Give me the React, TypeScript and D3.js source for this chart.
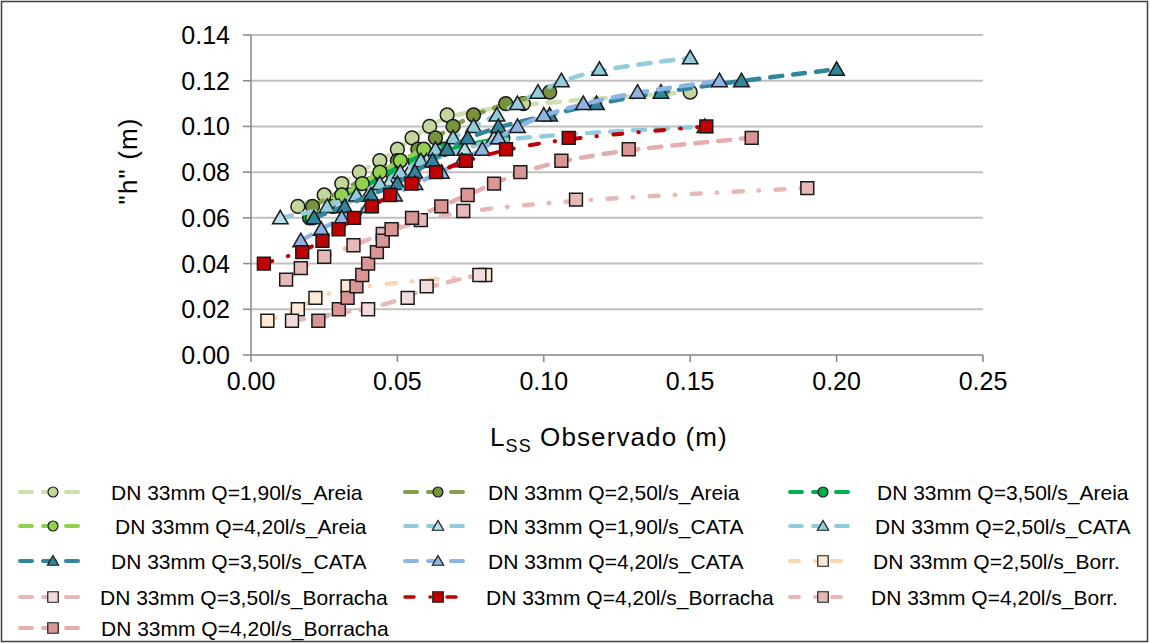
import * as d3 from "d3";

// x = L_SS observado (m), h = "h" (m)
const xTicks = [0, 0.05, 0.1, 0.15, 0.2, 0.25];
const yTicks = [0, 0.02, 0.04, 0.06, 0.08, 0.1, 0.12, 0.14];

const areia190: [number, number][] = [
  [0.016, 0.065], [0.025, 0.07], [0.031, 0.075], [0.037, 0.08], [0.044, 0.085], [0.050, 0.09],
  [0.055, 0.095], [0.061, 0.1], [0.067, 0.105], [0.093, 0.11], [0.150, 0.115],
];
const areia250: [number, number][] = [
  [0.021, 0.065], [0.050, 0.085], [0.057, 0.09], [0.063, 0.095], [0.069, 0.1], [0.076, 0.105],
  [0.087, 0.11], [0.102, 0.115],
];
const areia350: [number, number][] = [
  [0.020, 0.06], [0.028, 0.065], [0.034, 0.07], [0.041, 0.075], [0.048, 0.08], [0.056, 0.085],
  [0.066, 0.09], [0.086, 0.095],
];
const areia420: [number, number][] = [
  [0.021, 0.06], [0.031, 0.07], [0.038, 0.075], [0.044, 0.08], [0.051, 0.085], [0.059, 0.09],
];
const cata190: [number, number][] = [
  [0.010, 0.06], [0.030, 0.065], [0.040, 0.07], [0.047, 0.075], [0.054, 0.08], [0.060, 0.085],
  [0.073, 0.09], [0.083, 0.095], [0.155, 0.1],
];
const cata250: [number, number][] = [
  [0.026, 0.065], [0.036, 0.07], [0.044, 0.075], [0.051, 0.08], [0.058, 0.085], [0.063, 0.09],
  [0.069, 0.095], [0.076, 0.1], [0.084, 0.105], [0.091, 0.11], [0.098, 0.115], [0.106, 0.12],
  [0.119, 0.125], [0.150, 0.13],
];
const cata350: [number, number][] = [
  [0.0215, 0.06], [0.032, 0.065], [0.041, 0.07], [0.050, 0.075], [0.056, 0.08], [0.062, 0.085],
  [0.067, 0.09], [0.074, 0.095], [0.0845, 0.1], [0.102, 0.105], [0.118, 0.11], [0.140, 0.115],
  [0.1675, 0.12], [0.200, 0.125],
];
const cata420: [number, number][] = [
  [0.017, 0.05], [0.024, 0.055], [0.031, 0.06], [0.040, 0.065], [0.049, 0.07], [0.056, 0.075],
  [0.065, 0.08], [0.072, 0.085], [0.079, 0.09], [0.0845, 0.095], [0.091, 0.1], [0.100, 0.105],
  [0.1135, 0.11], [0.132, 0.115], [0.160, 0.12],
];
const borr250: [number, number][] = [
  [0.0056, 0.015], [0.016, 0.02], [0.022, 0.025], [0.033, 0.03], [0.080, 0.035],
];
const borr350: [number, number][] = [
  [0.014, 0.015], [0.040, 0.02], [0.0535, 0.025], [0.060, 0.03], [0.078, 0.035],
];
const borr420: [number, number][] = [
  [0.0044, 0.04], [0.0175, 0.045], [0.0244, 0.05], [0.0299, 0.055], [0.0352, 0.06], [0.0413, 0.065],
  [0.0475, 0.07], [0.0548, 0.075], [0.0632, 0.08], [0.0734, 0.085], [0.0871, 0.09], [0.1085, 0.095],
  [0.1555, 0.1],
];
const borr420b: [number, number][] = [
  [0.012, 0.033], [0.017, 0.038], [0.025, 0.043], [0.035, 0.048], [0.045, 0.053], [0.058, 0.059],
  [0.0725, 0.063], [0.111, 0.068], [0.190, 0.073],
];
const borr420c: [number, number][] = [
  [0.023, 0.015], [0.030, 0.02], [0.033, 0.025], [0.036, 0.03], [0.038, 0.035], [0.040, 0.04],
  [0.043, 0.045], [0.045, 0.05], [0.048, 0.055], [0.055, 0.06], [0.065, 0.065], [0.074, 0.07],
  [0.083, 0.075], [0.092, 0.08], [0.106, 0.085], [0.129, 0.09], [0.171, 0.095],
];

const seriesNames = [
  "DN 33mm Q=1,90l/s_Areia", "DN 33mm Q=2,50l/s_Areia", "DN 33mm Q=3,50l/s_Areia",
  "DN 33mm Q=4,20l/s_Areia", "DN 33mm Q=1,90l/s_CATA", "DN 33mm Q=2,50l/s_CATA",
  "DN 33mm Q=3,50l/s_CATA", "DN 33mm Q=4,20l/s_CATA", "DN 33mm Q=2,50l/s_Borr.",
  "DN 33mm Q=3,50l/s_Borracha", "DN 33mm Q=4,20l/s_Borracha", "DN 33mm Q=4,20l/s_Borr.",
  "DN 33mm Q=4,20l/s_Borracha",
];
const seriesData = [
  areia190, areia250, areia350, areia420, cata190, cata250, cata350, cata420,
  borr250, borr350, borr420, borr420b, borr420c,
];

type Shape = "circle" | "triangle" | "square";
const styles: { shape: Shape; fill: string; line: string; dash: string }[] = [
  { shape: "circle", fill: "#c3d69b", line: "#cfdfad", dash: "dash" },
  { shape: "circle", fill: "#77933c", line: "#84a04a", dash: "dash" },
  { shape: "circle", fill: "#00b050", line: "#00b050", dash: "dash" },
  { shape: "circle", fill: "#92d050", line: "#92d050", dash: "dash" },
  { shape: "triangle", fill: "#b7dee8", line: "#93cddd", dash: "dash" },
  { shape: "triangle", fill: "#93cddd", line: "#93cddd", dash: "dash" },
  { shape: "triangle", fill: "#31859c", line: "#31859c", dash: "dash" },
  { shape: "triangle", fill: "#8eb4e3", line: "#8eb4e3", dash: "dash" },
  { shape: "square", fill: "#fde9d9", line: "#fcd5b5", dash: "dashdot" },
  { shape: "square", fill: "#f2dcdb", line: "#e6b9b8", dash: "dash" },
  { shape: "square", fill: "#c00000", line: "#c00000", dash: "dashdot" },
  { shape: "square", fill: "#e6b9b8", line: "#e6b9b8", dash: "dashdot" },
  { shape: "square", fill: "#da9694", line: "#e3aead", dash: "dash" },
];

const dashes: Record<string, string> = { dash: "12 11", dashdot: "9 16 0.5 16.5" };
const legendRows = [492, 526, 561, 597, 628];
const legendSampleX = [20, 405, 790];
const legendTextX = [111, 488, 877, 115, 488, 875, 111, 488, 873, 100, 486, 871, 101];

const font = "'Liberation Sans', Arial, Helvetica, sans-serif";

const symbolPath = (shape: Shape, big: boolean) => {
  const type = shape === "circle" ? d3.symbolCircle : shape === "triangle" ? d3.symbolTriangle : d3.symbolSquare;
  const size = big
    ? shape === "circle" ? 150 : shape === "triangle" ? 105 : 165
    : shape === "circle" ? 78 : shape === "triangle" ? 55 : 110;
  return d3.symbol().type(type).size(size)() as string;
};

export default function App() {
  const x = d3.scaleLinear().domain([0, 0.25]).range([251, 983]);
  const y = d3.scaleLinear().domain([0, 0.14]).range([355, 35]);
  const line = d3
    .line<[number, number]>()
    .x((d) => x(d[0]))
    .y((d) => y(d[1]))
    .curve(d3.curveBasis);
  const fmt = d3.format(".2f");

  return (
    <svg
      width={1150}
      height={643}
      style={{ position: "absolute", left: 0, top: 0, background: "#fff" }}
      fontFamily={font}
    >
      <rect x={1.5} y={1.5} width={1146} height={640} fill="#fff" stroke="#404040" strokeWidth={1.5} />

      {/* grid */}
      {yTicks.slice(1).map((t) => (
        <line key={t} x1={x(0)} x2={x(0.25)} y1={y(t)} y2={y(t)} stroke="#c0c0c0" strokeWidth={2} />
      ))}

      {/* axes */}
      <line x1={x(0)} x2={x(0)} y1={y(0.14)} y2={y(0)} stroke="#868686" strokeWidth={1.5} />
      <line x1={x(0)} x2={x(0.25)} y1={y(0)} y2={y(0)} stroke="#868686" strokeWidth={1.5} />
      {yTicks.map((t) => (
        <g key={t}>
          <line x1={x(0) - 8} x2={x(0)} y1={y(t)} y2={y(t)} stroke="#868686" strokeWidth={1.5} />
          <text x={x(0) - 21} y={y(t)} dy="0.36em" textAnchor="end" fontSize={25} fill="#000">
            {fmt(t)}
          </text>
        </g>
      ))}
      {xTicks.map((t) => (
        <g key={t}>
          <line x1={x(t)} x2={x(t)} y1={y(0)} y2={y(0) + 7} stroke="#868686" strokeWidth={1.5} />
          <text x={x(t)} y={390} textAnchor="middle" fontSize={25} fill="#000">
            {fmt(t)}
          </text>
        </g>
      ))}

      {/* axis titles */}
      <text x={490} y={446} fontSize={26} letterSpacing={1.1} fill="#000">
        L<tspan fontSize={18} dy={6}>SS</tspan>
        <tspan dy={-6}> Observado (m)</tspan>
      </text>
      <text transform="translate(137,161) rotate(-90)" textAnchor="middle" fontSize={26} letterSpacing={1.1} fill="#000">
        "h" (m)
      </text>

      {/* series */}
      {seriesData.map((data, i) => {
        const s = styles[i];
        const sorted = [...data].sort((a, b) => a[0] - b[0]);
        return (
          <g key={i}>
            <path
              d={line(sorted) ?? ""}
              fill="none"
              stroke={s.line}
              strokeWidth={i === 10 ? 4 : 4.5}
              strokeDasharray={dashes[s.dash]}
              strokeLinecap="round"
            />
            {data.map((d, j) => (
              <path
                key={j}
                d={symbolPath(s.shape, true)}
                transform={`translate(${x(d[0])},${y(d[1]) + (s.shape === "triangle" ? 1.5 : 0)})`}
                fill={s.fill}
                stroke="#1a1a1a"
                strokeWidth={1.5}
              />
            ))}
          </g>
        );
      })}

      {/* legend */}
      {seriesNames.map((name, i) => {
        const s = styles[i];
        const col = i % 3;
        const cy = legendRows[Math.floor(i / 3)];
        const x0 = legendSampleX[col];
        return (
          <g key={i}>
            <line
              x1={x0}
              x2={x0 + 64}
              y1={cy}
              y2={cy}
              stroke={s.line}
              strokeWidth={i === 10 ? 3.5 : 4}
              strokeDasharray={dashes[s.dash]}
              strokeLinecap="round"
            />
            <path
              d={symbolPath(s.shape, false)}
              transform={`translate(${x0 + 33},${cy + (s.shape === "triangle" ? 1 : 0)})`}
              fill={s.fill}
              stroke="#1a1a1a"
              strokeWidth={1.2}
            />
            <text x={legendTextX[i]} y={cy} dy="0.36em" fontSize={21} fill="#000">
              {name}
            </text>
          </g>
        );
      })}
    </svg>
  );
}
